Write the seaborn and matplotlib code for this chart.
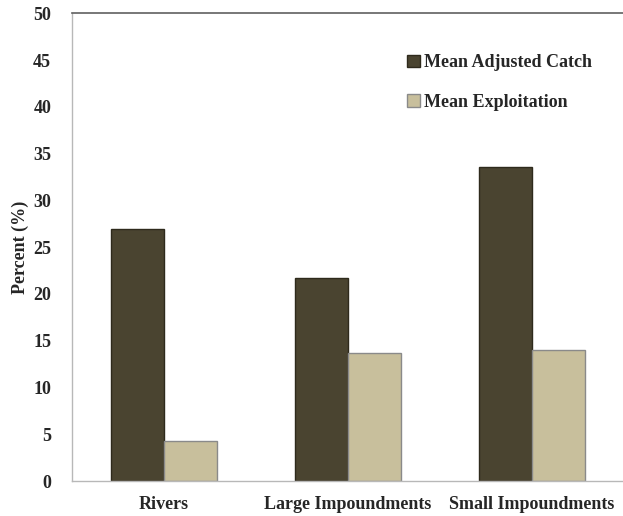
import numpy as np
import pandas as pd
import matplotlib
matplotlib.use("Agg")
import matplotlib.pyplot as plt
import seaborn as sns
from matplotlib.patches import Patch
from matplotlib.ticker import FixedLocator

# chart values
categories = ["Rivers", "Large Impoundments", "Small Impoundments"]
series_names = ["Mean Adjusted Catch", "Mean Exploitation"]
adjusted_catch = [26.9, 21.7, 33.6]
exploitation = [4.3, 13.7, 14.0]
y_ticks = list(range(0, 55, 5))

colors = ["#4a4430", "#c8bf9c"]
edges = ["#2e2a1c", "#8a8a8a"]

df = pd.DataFrame({
    "category": categories * 2,
    "series": [series_names[0]] * 3 + [series_names[1]] * 3,
    "value": adjusted_catch + exploitation,
})

sns.set_style("white")
plt.rcParams["font.family"] = ["Liberation Serif", "DejaVu Serif"]
plt.rcParams["font.weight"] = "bold"

fig = plt.figure(figsize=(6.23, 5.16), dpi=100)
ax = fig.add_axes([72 / 623, 1 - 481 / 516, 551 / 623, (481 - 13.5) / 516])

sns.barplot(data=df, x="category", y="value", hue="series", order=categories,
            hue_order=series_names, palette=colors, width=0.576, saturation=1,
            legend=False, ax=ax)

# bar edge colours per series
for cont, ec in zip(ax.containers, edges):
    for bar in cont:
        bar.set_edgecolor(ec)
        bar.set_linewidth(1.0)

ax.set_xlim(-0.5, 2.5 - (184 * 3 - 551) / 184)
ax.set_ylim(0, 50)
ax.set_yticks(y_ticks)
ax.set_ylabel("Percent (%)", fontsize=13, fontweight="bold", labelpad=3)
ax.set_xlabel("")

# spines: light gray left/bottom, darker top line, no right
for side in ["left", "bottom"]:
    ax.spines[side].set_color("#b8b8b8")
    ax.spines[side].set_linewidth(1.0)
ax.spines["top"].set_color("#606060")
ax.spines["top"].set_linewidth(1.2)
ax.spines["right"].set_visible(False)

ax.tick_params(axis="y", length=6, color="#b8b8b8", labelsize=13, pad=9)
ax.tick_params(axis="x", which="major", length=0, labelsize=13, pad=11)
ax.xaxis.set_minor_locator(FixedLocator([-0.5, 0.5, 1.5]))
ax.tick_params(axis="x", which="minor", length=6, color="#b8b8b8")
for lab in ax.get_xticklabels() + ax.get_yticklabels():
    lab.set_fontweight("bold")

handles = [Patch(facecolor=c, edgecolor=e, label=n) for c, e, n in zip(colors, edges, series_names)]
fig.legend(handles=handles, loc="upper left", bbox_to_anchor=(391 / 623, 1 - 38 / 516),
           frameon=False, handlelength=0.7, handleheight=0.7,
           handletextpad=0.2, labelspacing=1.25, prop={"weight": "bold", "size": 13})

fig.savefig("out.png", dpi=100)
